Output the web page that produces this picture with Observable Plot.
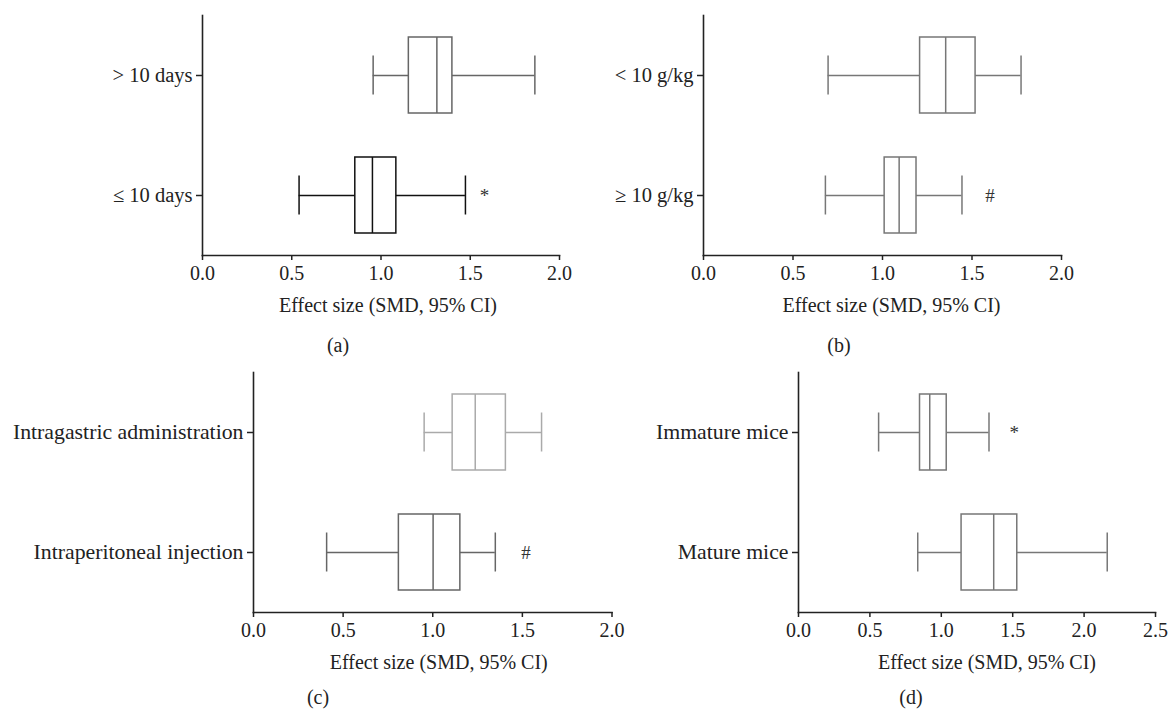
<!DOCTYPE html>
<html>
<head>
<meta charset="utf-8">
<script src="https://cdn.jsdelivr.net/npm/d3@7"></script>
<script src="https://cdn.jsdelivr.net/npm/@observablehq/plot@0.6"></script>
<style>
  html, body { margin: 0; padding: 0; background: #fff; }
  #root { position: relative; width: 1169px; height: 709px; overflow: hidden; font-family: "Liberation Serif", "DejaVu Serif", serif; }
  .panel { position: absolute; left: 0; }
  .panel svg { background: transparent !important; }
  .cap { position: absolute; font-size: 20px; line-height: 20px; color: #222; transform: translate(-50%, -50%); white-space: nowrap; }
</style>
</head>
<body>
<div id="root"></div>
<script>
// ---- Panel (a): duration of treatment ----
const aCategories = ["> 10 days", "≤ 10 days"];
const aLow  = [0.956, 0.541];
const aQ1   = [1.156, 0.856];
const aMed  = [1.313, 0.952];
const aQ3   = [1.400, 1.086];
const aHigh = [1.862, 1.473];
const aMarks = ["", "*"];
const aMarkX = [null, 1.58];
const aColors = ["#666666", "#111111"];

// ---- Panel (b): dose ----
const bCategories = ["< 10 g/kg", "≥ 10 g/kg"];
const bLow  = [0.696, 0.681];
const bQ1   = [1.210, 1.012];
const bMed  = [1.353, 1.093];
const bQ3   = [1.520, 1.190];
const bHigh = [1.774, 1.444];
const bMarks = ["", "#"];
const bMarkX = [null, 1.60];
const bColors = ["#777777", "#777777"];

// ---- Panel (c): route of administration ----
const cCategories = ["Intragastric administration", "Intraperitoneal injection"];
const cLow  = [0.952, 0.408];
const cQ1   = [1.111, 0.811];
const cMed  = [1.237, 1.002];
const cQ3   = [1.408, 1.154];
const cHigh = [1.607, 1.349];
const cMarks = ["", "#"];
const cMarkX = [null, 1.52];
const cColors = ["#aaaaaa", "#666666"];

// ---- Panel (d): age of mice ----
const dCategories = ["Immature mice", "Mature mice"];
const dLow  = [0.561, 0.835];
const dQ1   = [0.851, 1.142];
const dMed  = [0.919, 1.367];
const dQ3   = [1.038, 1.532];
const dHigh = [1.334, 2.162];
const dMarks = ["*", ""];
const dMarkX = [1.51, null];
const dColors = ["#777777", "#777777"];

const xLabel = "Effect size (SMD, 95% CI)";
const ticks2 = [0, 0.5, 1.0, 1.5, 2.0];
const ticks25 = [0, 0.5, 1.0, 1.5, 2.0, 2.5];
const captions = ["(a)", "(b)", "(c)", "(d)"];

const W = 1169;
const FONT = "Liberation Serif, DejaVu Serif, serif";

function rows(cats, low, q1, med, q3, high, marks, markX, colors) {
  return cats.map((c, i) => ({cat: c, low: low[i], q1: q1[i], med: med[i], q3: q3[i], high: high[i], mark: marks[i], markX: markX[i], color: colors[i]}));
}

function panel({data, cats, domain, ticks, top, height, mL, mR, mT, mB, labelDx, yFont}) {
  const step = (height - mT - mB) / 2;
  const boxInset = (step - 76) / 2;
  const capInset = (step - 39) / 2;
  const plot = Plot.plot({
    width: W, height,
    marginLeft: mL, marginRight: mR, marginTop: mT, marginBottom: mB,
    style: {fontFamily: FONT, fontSize: "20px", color: "#222", background: "transparent", overflow: "visible"},
    x: {domain, ticks},
    y: {domain: cats, padding: 0},
    marks: [
      Plot.ruleY(data, {y: "cat", x1: "low", x2: "q1", stroke: "color", strokeWidth: 1.5}),
      Plot.ruleY(data, {y: "cat", x1: "q3", x2: "high", stroke: "color", strokeWidth: 1.5}),
      Plot.tickX(data, {y: "cat", x: "low", stroke: "color", strokeWidth: 1.5, insetTop: capInset, insetBottom: capInset}),
      Plot.tickX(data, {y: "cat", x: "high", stroke: "color", strokeWidth: 1.5, insetTop: capInset, insetBottom: capInset}),
      Plot.barX(data, {y: "cat", x1: "q1", x2: "q3", fill: "white", stroke: "color", strokeWidth: 1.5, insetTop: boxInset, insetBottom: boxInset}),
      Plot.tickX(data, {y: "cat", x: "med", stroke: "color", strokeWidth: 1.5, insetTop: boxInset, insetBottom: boxInset}),
      Plot.text(data.filter(d => d.mark), {y: "cat", x: "markX", text: "mark", fill: "#333", fontSize: 19}),
      Plot.axisX({ticks, tickFormat: d3.format(".1f"), tickSize: 5, tickPadding: 5, label: null, stroke: "#222", strokeWidth: 1.5}),
      Plot.axisY({tickSize: 6, tickPadding: 4, label: null, stroke: "#222", strokeWidth: 1.5, fontSize: yFont}),
      Plot.text([xLabel], {frameAnchor: "bottom", dy: 50, dx: labelDx, lineAnchor: "middle", fill: "#222", fontSize: 20}),
      Plot.frame({anchor: "bottom", stroke: "#222", strokeWidth: 1.6}),
      Plot.frame({anchor: "left", stroke: "#222", strokeWidth: 1.6})
    ]
  });
  const div = document.createElement("div");
  div.className = "panel";
  div.style.top = top + "px";
  div.appendChild(plot);
  document.getElementById("root").appendChild(div);
}

function caption(text, x, y) {
  const d = document.createElement("div");
  d.className = "cap";
  d.textContent = text;
  d.style.left = x + "px";
  d.style.top = y + "px";
  document.getElementById("root").appendChild(d);
}

panel({data: rows(aCategories, aLow, aQ1, aMed, aQ3, aHigh, aMarks, aMarkX, aColors), cats: aCategories,
  domain: [0, 2], ticks: ticks2, top: 0, height: 340, mL: 202, mR: W - 559, mT: 15, mB: 85, labelDx: 7, yFont: 20.5});
panel({data: rows(bCategories, bLow, bQ1, bMed, bQ3, bHigh, bMarks, bMarkX, bColors), cats: bCategories,
  domain: [0, 2], ticks: ticks2, top: 0, height: 340, mL: 703, mR: W - 1061, mT: 15, mB: 85, labelDx: 9, yFont: 20.5});
panel({data: rows(cCategories, cLow, cQ1, cMed, cQ3, cHigh, cMarks, cMarkX, cColors), cats: cCategories,
  domain: [0, 2], ticks: ticks2, top: 340, height: 369, mL: 253, mR: W - 611.5, mT: 32, mB: 97, labelDx: 6, yFont: 21.8});
panel({data: rows(dCategories, dLow, dQ1, dMed, dQ3, dHigh, dMarks, dMarkX, dColors), cats: dCategories,
  domain: [0, 2.5], ticks: ticks25, top: 340, height: 369, mL: 798, mR: W - 1155, mT: 32, mB: 97, labelDx: 10, yFont: 21.8});

caption(captions[0], 338, 345);
caption(captions[1], 839, 345);
caption(captions[2], 318, 697);
caption(captions[3], 911, 697);
</script>
</body>
</html>
